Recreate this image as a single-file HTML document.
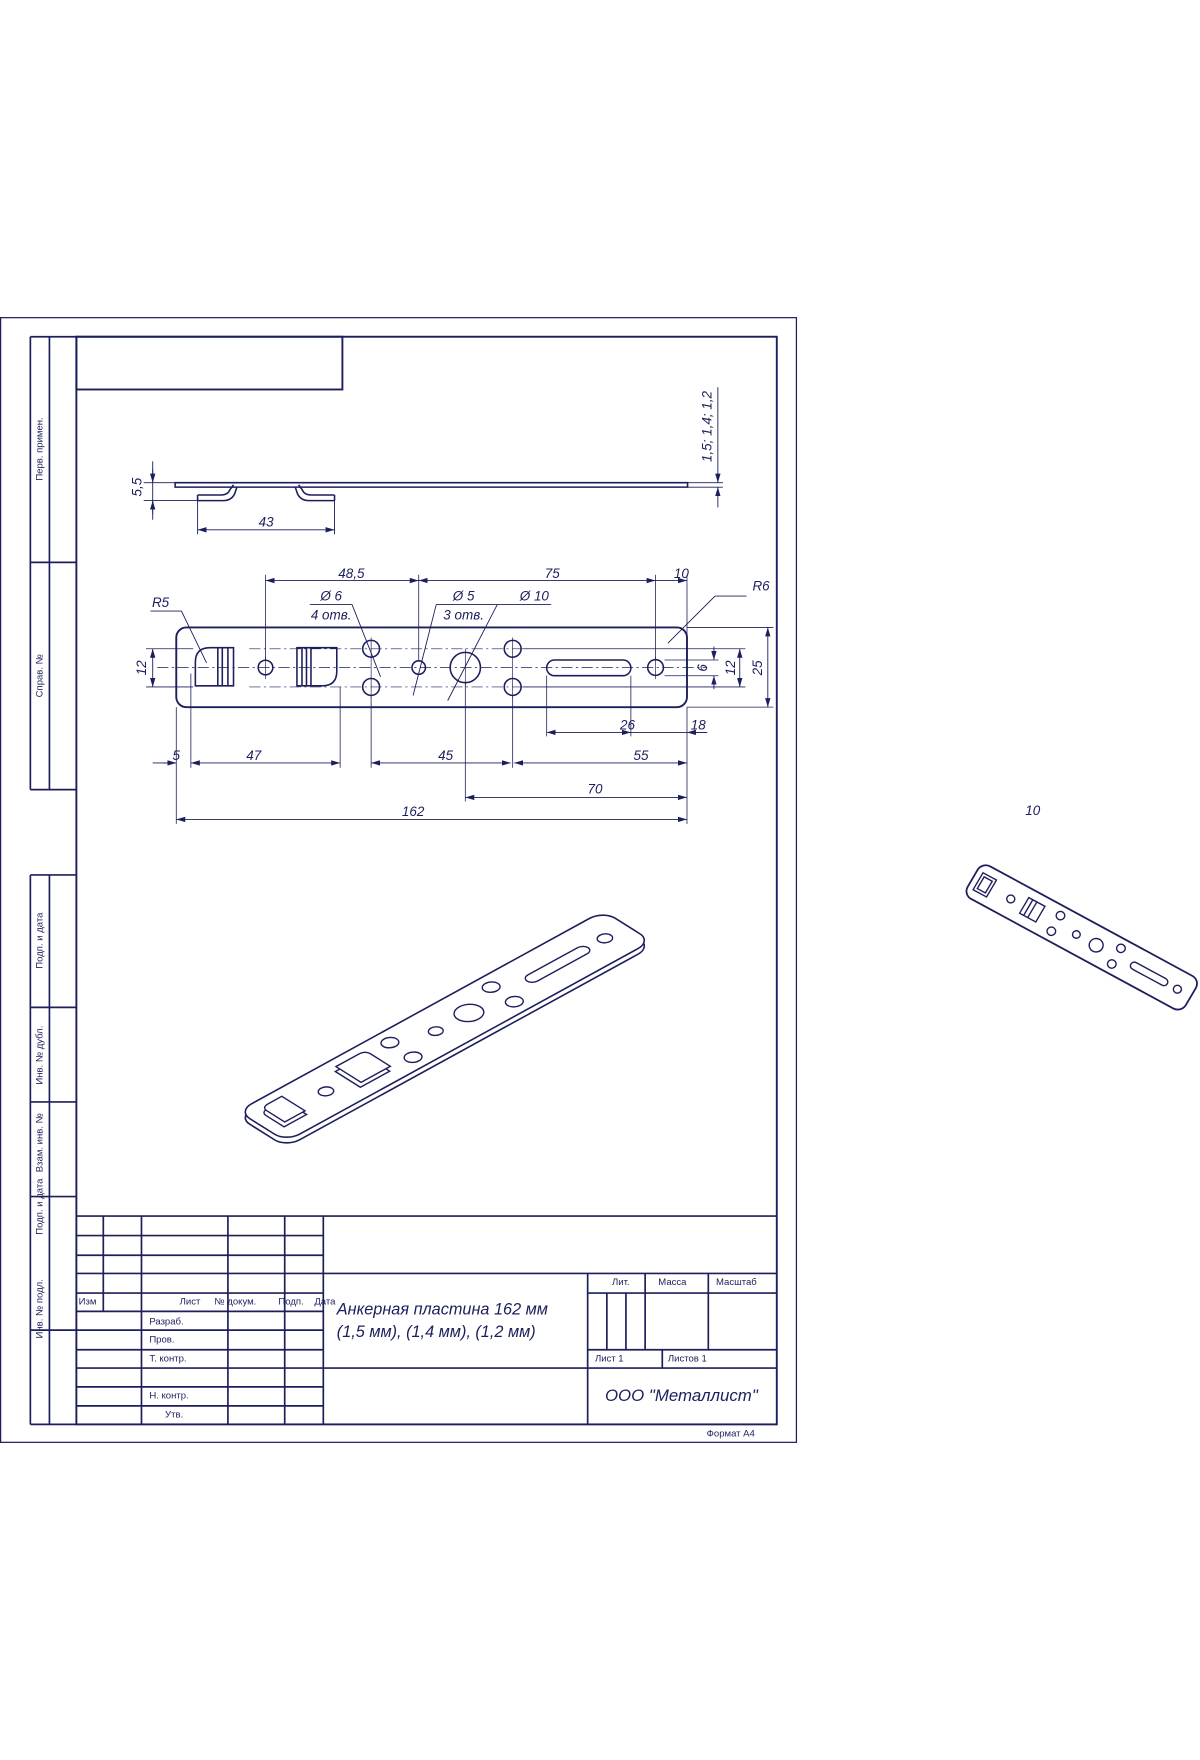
<!DOCTYPE html>
<html><head><meta charset="utf-8"><style>
html,body{margin:0;padding:0;background:#fff}
svg{display:block}
text{font-family:"Liberation Sans","DejaVu Sans",sans-serif;fill:#1c1f5c}
.d{font-style:italic;font-size:12px}
.t{font-size:8.5px}
</style></head><body>
<svg width="1200" height="1760" viewBox="0 0 1069 1568" xmlns="http://www.w3.org/2000/svg">
<defs>
<marker id="a" viewBox="0 0 10 6" refX="10" refY="3" markerWidth="8" markerHeight="5" orient="auto-start-reverse" markerUnits="userSpaceOnUse"><path d="M0,0 L10,3 L0,6 z" fill="#1c1f5c"/></marker>
</defs>
<g fill="none" stroke="#1c1f5c" stroke-width="1.4">
<rect x="0.5" y="283" width="709" height="1002" stroke-width="1.1"/>
<rect x="68" y="300" width="624" height="969" stroke-width="1.7"/>
<rect x="68" y="300" width="237" height="47" stroke-width="1.7"/>
<path d="M27,300 V703.5 M44,300 V703.5 M27,300 H68 M27,501 H68 M27,703.5 H68" stroke-width="1.5"/>
<path d="M27,779.5 V1269 M44,779.5 V1269 M27,779.5 H68 M27,897.5 H68 M27,981.7 H68 M27,1066 H68 M27,1185 H68 M27,1269 H68" stroke-width="1.5"/>
<path d="M68,1083.4 H692 M68,1100.8 H288 M68,1118.3 H288 M68,1134.5 H692 M68,1152 H288 M68,1168.3 H288 M68,1185 H288 M68,1202.5 H288 M68,1218.8 H692 M68,1235.6 H288 M68,1252.5 H288" stroke-width="1.5"/>
<path d="M92,1083.4 V1168.3 M126,1083.4 V1269 M203,1083.4 V1269 M253.6,1083.4 V1269 M288,1083.4 V1269" stroke-width="1.5"/>
<path d="M523.5,1134.5 V1269 M523.5,1152 H692 M523.5,1202.5 H692 M574.7,1134.5 V1202.5 M631,1134.5 V1202.5 M590,1202.5 V1218.8 M540.6,1152 V1202.5 M557.6,1152 V1202.5" stroke-width="1.5"/>

<path d="M156,430 H612.5 V434 H156 Z" stroke-width="1.4"/>
<path d="M176,441 H197 Q203,441 205,436 L208,432 M176,446 H199 Q206,446 209,440 L211,434 M176,441 V446" />
<path d="M298,441 H277 Q271,441 269,436 L266,432 M298,446 H275 Q268,446 265,440 L263,434 M298,441 V446"/>
<path d="M136,411 V463 M128,430 H156 M128,446 H176" stroke-width="0.8"/>
<path d="M136,418 V430" marker-end="url(#a)" stroke-width="0.8"/>
<path d="M136,458 V446" marker-end="url(#a)" stroke-width="0.8"/>
<path d="M176,446 V476 M298,446 V476" stroke-width="0.8"/>
<path d="M176,472 H298" marker-start="url(#a)" marker-end="url(#a)" stroke-width="0.8"/>
<path d="M612.5,430 H644 M612.5,434 H644" stroke-width="0.8"/>
<path d="M639.5,345 V430" marker-end="url(#a)" stroke-width="0.8"/>
<path d="M639.5,452 V434" marker-end="url(#a)" stroke-width="0.8"/>

<rect x="157" y="559" width="455" height="71" rx="9" stroke-width="1.7"/>
<path d="M140,594.7 H630 M222,578 H470 M222,612 H470" stroke-width="0.6" stroke-dasharray="10,3,2,3"/>
<path d="M174,611 V590 Q174,577 187,577 H208 V611 Z M194,577 V611 M198,577 V611 M203,577 V611" stroke-width="1.4"/>
<path d="M264.5,577 H300 V598 Q300,611 287,611 H264.5 Z M269,577 V611 M273,577 V611 M277,577 V611" stroke-width="1.4"/>
<circle cx="236.5" cy="594.7" r="6.5"/>
<circle cx="330.6" cy="578" r="7.5"/><circle cx="330.6" cy="612" r="7.5"/>
<circle cx="373" cy="594.7" r="6"/>
<circle cx="414.5" cy="594.7" r="13.5"/>
<circle cx="456.7" cy="578" r="7.5"/><circle cx="456.7" cy="612" r="7.5"/>
<rect x="487" y="588" width="75" height="14" rx="7"/>
<circle cx="584" cy="594.7" r="7"/>
<path d="M236.5,585 V605 M330.6,568 V622 M456.7,568 V622 M414.5,578 V612 M584,585 V605" stroke-width="0.6"/>
<path d="M236.5,512 V588 M373,512 V588 M584,512 V588 M612,512 V566" stroke-width="0.7"/>
<path d="M236.5,517.2 H373" marker-start="url(#a)" marker-end="url(#a)" stroke-width="0.8"/>
<path d="M373,517.2 H584" marker-start="url(#a)" marker-end="url(#a)" stroke-width="0.8"/>
<path d="M584,517.2 H612" marker-end="url(#a)" stroke-width="0.8"/>
<path d="M276,538.6 H313.6 L339,603 M388.6,538.6 H443 M388.6,538.6 L368,619.6 M443,538.6 H491 M443,538.6 L398.8,624.2 M134,544.4 H161.6 L184,590.6 M637,531 H665 M637,531 L595,573" stroke-width="0.8"/>
<path d="M592,588 H640 M592,602 H640 M466,578 H664 M466,612 H664 M612,559 H689 M612,630 H689" stroke-width="0.7"/>
<path d="M636,576 V588" marker-end="url(#a)" stroke-width="0.8"/>
<path d="M636,614 V602" marker-end="url(#a)" stroke-width="0.8"/>
<path d="M659,578 V612" marker-start="url(#a)" marker-end="url(#a)" stroke-width="0.8"/>
<path d="M684,559 V630" marker-start="url(#a)" marker-end="url(#a)" stroke-width="0.8"/>
<path d="M130,578 H172 M130,612 H172" stroke-width="0.7"/>
<path d="M136,578 V612" marker-start="url(#a)" marker-end="url(#a)" stroke-width="0.8"/>
<path d="M157,630 V734 M170,600 V684 M303,612 V684 M330.6,620 V684 M456.7,620 V684 M487,602 V656 M562,602 V656 M612,630 V734 M414.5,608 V714" stroke-width="0.7"/>
<path d="M487,652.5 H562" marker-start="url(#a)" marker-end="url(#a)" stroke-width="0.8"/>
<path d="M562,652.5 H630 M136,679.7 H157" stroke-width="0.8"/>
<path d="M630,652.5 H612" marker-end="url(#a)" stroke-width="0.8"/>
<path d="M145,679.7 H157" marker-end="url(#a)" stroke-width="0.8"/>
<path d="M170,679.7 H303" marker-start="url(#a)" marker-end="url(#a)" stroke-width="0.8"/>
<path d="M330.6,679.7 H455" marker-start="url(#a)" marker-end="url(#a)" stroke-width="0.8"/>
<path d="M458,679.7 H612" marker-start="url(#a)" marker-end="url(#a)" stroke-width="0.8"/>
<path d="M414.5,710.4 H612" marker-start="url(#a)" marker-end="url(#a)" stroke-width="0.8"/>
<path d="M157,730 H612" marker-start="url(#a)" marker-end="url(#a)" stroke-width="0.8"/>

<g transform="translate(0,5)">
<g transform="matrix(2.009,-1.102,-1.72,-1.08,255,1017)"><rect x="0" y="0" width="162" height="25" rx="6" fill="#fff" vector-effect="non-scaling-stroke" stroke-width="1.6"/></g>
</g>
<g transform="matrix(2.009,-1.102,-1.72,-1.08,255,1017)">
<rect x="0" y="0" width="162" height="25" rx="6" fill="#fff" vector-effect="non-scaling-stroke" stroke-width="1.6"/>
<path d="M5,7 H15 V19 H8 Q5,19 5,16 Z" vector-effect="non-scaling-stroke"/>
<path d="M7,9 H16 V21 H10 Q7,21 7,18 Z" fill="#fff" vector-effect="non-scaling-stroke"/>
<circle cx="28.3" cy="12.5" r="2.6" vector-effect="non-scaling-stroke"/>
<path d="M38,6 H51 V16 Q51,19 48,19 H38 Z" vector-effect="non-scaling-stroke"/>
<path d="M40,8 H53 V18 Q53,21 50,21 H40 Z" fill="#fff" vector-effect="non-scaling-stroke"/>
<circle cx="61.8" cy="6.5" r="3" vector-effect="non-scaling-stroke"/><circle cx="61.8" cy="18.5" r="3" vector-effect="non-scaling-stroke"/>
<circle cx="77" cy="12.5" r="2.5" vector-effect="non-scaling-stroke"/>
<circle cx="91.7" cy="12.5" r="5" vector-effect="non-scaling-stroke"/>
<circle cx="106.7" cy="6.5" r="3" vector-effect="non-scaling-stroke"/><circle cx="106.7" cy="18.5" r="3" vector-effect="non-scaling-stroke"/>
<rect x="117.5" y="10" width="27" height="5" rx="2.5" vector-effect="non-scaling-stroke"/>
<circle cx="152" cy="12.5" r="2.6" vector-effect="non-scaling-stroke"/>
</g>

<g transform="matrix(1.2,0.65,0.68,-1.16,858,797)">
<rect x="0" y="0" width="162" height="25" rx="6" fill="#fff" vector-effect="non-scaling-stroke" stroke-width="1.8"/>
<path d="M4,6 H14 V19 H4 Z M6,8 H12 V17 H6 Z" vector-effect="non-scaling-stroke"/>
<circle cx="28.3" cy="12.5" r="2.6" vector-effect="non-scaling-stroke"/>
<path d="M38,7 H50 V19 H38 Z M41,7 V19 M44,7 V19" vector-effect="non-scaling-stroke"/>
<circle cx="61.8" cy="6.5" r="2.8" vector-effect="non-scaling-stroke"/><circle cx="61.8" cy="18.5" r="2.8" vector-effect="non-scaling-stroke"/>
<circle cx="77" cy="12.5" r="2.5" vector-effect="non-scaling-stroke"/>
<circle cx="91.7" cy="12.5" r="4.5" vector-effect="non-scaling-stroke"/>
<circle cx="106.7" cy="6.5" r="2.8" vector-effect="non-scaling-stroke"/><circle cx="106.7" cy="18.5" r="2.8" vector-effect="non-scaling-stroke"/>
<rect x="117.5" y="10" width="27" height="5" rx="2.5" vector-effect="non-scaling-stroke"/>
<circle cx="152" cy="12.5" r="2.6" vector-effect="non-scaling-stroke"/>
</g>
</g>

<text class="d" x="126" y="434" text-anchor="middle" transform="rotate(-90 126 434)">5,5</text>
<text class="d" x="237" y="469" text-anchor="middle">43</text>
<text class="d" x="634" y="380" text-anchor="middle" transform="rotate(-90 634 380)">1,5; 1,4; 1,2</text>
<text class="d" x="313" y="515" text-anchor="middle">48,5</text>
<text class="d" x="492" y="515" text-anchor="middle">75</text>
<text class="d" x="607" y="515" text-anchor="middle">10</text>
<text class="d" x="295" y="535" text-anchor="middle">Ø 6</text>
<text class="d" x="295" y="552" text-anchor="middle">4 отв.</text>
<text class="d" x="413" y="535" text-anchor="middle">Ø 5</text>
<text class="d" x="413" y="552" text-anchor="middle">3 отв.</text>
<text class="d" x="476" y="535" text-anchor="middle">Ø 10</text>
<text class="d" x="143" y="541" text-anchor="middle">R5</text>
<text class="d" x="678" y="526" text-anchor="middle">R6</text>
<text class="d" x="130" y="595" text-anchor="middle" transform="rotate(-90 130 595)">12</text>
<text class="d" x="630" y="595" text-anchor="middle" transform="rotate(-90 630 595)">6</text>
<text class="d" x="655" y="595" text-anchor="middle" transform="rotate(-90 655 595)">12</text>
<text class="d" x="679" y="595" text-anchor="middle" transform="rotate(-90 679 595)">25</text>
<text class="d" x="559" y="650" text-anchor="middle">26</text>
<text class="d" x="622" y="650" text-anchor="middle">18</text>
<text class="d" x="157" y="677" text-anchor="middle">5</text>
<text class="d" x="226" y="677" text-anchor="middle">47</text>
<text class="d" x="397" y="677" text-anchor="middle">45</text>
<text class="d" x="571" y="677" text-anchor="middle">55</text>
<text class="d" x="530" y="707" text-anchor="middle">70</text>
<text class="d" x="368" y="727" text-anchor="middle">162</text>
<text class="d" x="920" y="726" text-anchor="middle">10</text>

<g class="t">
<text x="38" y="400" text-anchor="middle" transform="rotate(-90 38 400)">Перв. примен.</text>
<text x="38" y="602" text-anchor="middle" transform="rotate(-90 38 602)">Справ. №</text>
<text x="38" y="838" text-anchor="middle" transform="rotate(-90 38 838)">Подп. и дата</text>
<text x="38" y="940" text-anchor="middle" transform="rotate(-90 38 940)">Инв. № дубл.</text>
<text x="38" y="1018" text-anchor="middle" transform="rotate(-90 38 1018)">Взам. инв. №</text>
<text x="38" y="1075" text-anchor="middle" transform="rotate(-90 38 1075)">Подп. и дата</text>
<text x="38" y="1166" text-anchor="middle" transform="rotate(-90 38 1166)">Инв. № подл.</text>
</g>
<g class="t">
<text x="70" y="1162">Изм</text>
<text x="160" y="1162">Лист</text>
<text x="191" y="1162">№ докум.</text>
<text x="248" y="1162">Подп.</text>
<text x="280" y="1162">Дата</text>
<text x="133" y="1180">Разраб.</text>
<text x="133" y="1196">Пров.</text>
<text x="133" y="1213">Т. контр.</text>
<text x="133" y="1246">Н. контр.</text>
<text x="147" y="1263">Утв.</text>
<text x="553" y="1145" text-anchor="middle">Лит.</text>
<text x="599" y="1145" text-anchor="middle">Масса</text>
<text x="656" y="1145" text-anchor="middle">Масштаб</text>
<text x="530" y="1213">Лист 1</text>
<text x="595" y="1213">Листов 1</text>
<text x="651" y="1280" text-anchor="middle">Формат А4</text>
</g>
<text x="300" y="1171" style="font-style:italic;font-size:14.5px">Анкерная пластина 162 мм</text>
<text x="300" y="1191" style="font-style:italic;font-size:14.5px">(1,5 мм), (1,4 мм), (1,2 мм)</text>
<text x="607" y="1248" text-anchor="middle" style="font-style:italic;font-size:15px">ООО "Металлист"</text>
</svg>
</body></html>
